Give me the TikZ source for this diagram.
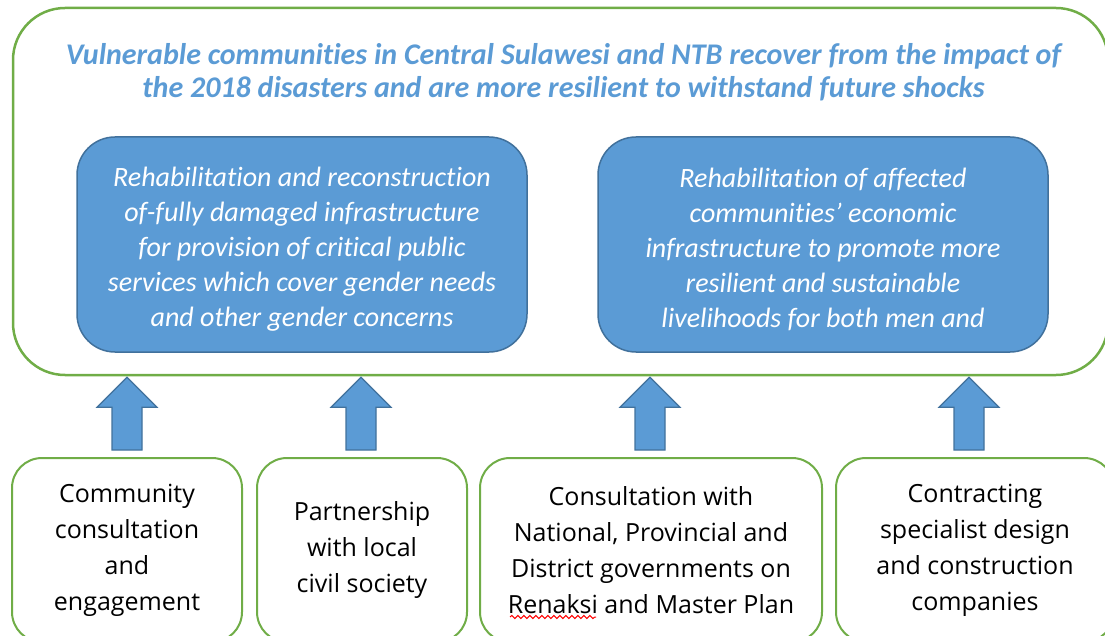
\documentclass[tikz,border=0pt]{standalone}
\usepackage{fontspec}
\setmainfont[Ligatures=NoCommon]{Carlito}
\newfontfamily\boxfont{Open Sans}
\usetikzlibrary{calc,decorations.pathmorphing}

\definecolor{goalgreen}{HTML}{70AD47}
\definecolor{accentblue}{HTML}{5B9BD5}
\definecolor{edgeblue}{HTML}{41719C}

% block arrow rising from an input box to the goal frame
\newcommand{\liftarrow}[2]{%
  \draw[liftshape] let \p1=($(#1.north)+(#2,0)$), \p2=(goal.south) in
    (\x1-15pt,\y1+7pt) -- (\x1-15pt,\y2-31pt) -- (\x1-30pt,\y2-31pt) --
    (\x1,\y2-1pt) -- (\x1+30pt,\y2-31pt) -- (\x1+15pt,\y2-31pt) --
    (\x1+15pt,\y1+7pt) -- cycle;}

\begin{document}
\begin{tikzpicture}[x=1pt,y=-1pt,
  goalbox/.style={draw=goalgreen, line width=2.5pt, rounded corners=52pt,
    minimum width=1095pt, minimum height=367pt, inner sep=0pt},
  aimtext/.style={text=accentblue, align=center, inner sep=0pt,
    font=\bfseries\itshape\fontsize{30}{33}\selectfont},
  outcome/.style={draw=edgeblue, fill=accentblue, line width=1.5pt,
    rounded corners=38pt, minimum width=450pt, minimum height=215pt,
    inner sep=0pt},
  outtext/.style={text=white, align=center, inner sep=0pt,
    font=\itshape\fontsize{28}{35}\selectfont},
  inputbox/.style={draw=goalgreen, line width=2pt, rounded corners=30pt,
    fill=white, minimum height=184pt, align=center, inner sep=0pt,
    font=\boxfont\fontsize{25}{36}\selectfont},
  liftshape/.style={draw=edgeblue, fill=accentblue, line width=1.2pt,
    line join=miter}]

\useasboundingbox (0,0) rectangle (1105,636);
\clip (0,0) rectangle (1105,636);

% goal frame and statement
\node[goalbox] (goal) at (560.5,191.5) {};
\node[aimtext] (aim) at (563.5,72.5)
  {Vulnerable communities in Central Sulawesi and NTB recover from the impact of\\
   the 2018 disasters and are more resilient to withstand future shocks};

% outcomes
\node[outcome] (out1) at (302,244.5) {};
\node[outtext] (out1t) at ($(out1.center)+(0,5)$)
  {Rehabilitation and reconstruction\\of-fully damaged infrastructure\\
   for provision of critical public\\services which cover gender needs\\
   and other gender concerns};
\node[outcome] (out2) at (823,244.5) {};
\node[outtext] (out2t) at ($(out2.center)+(0,5)$)
  {Rehabilitation of affected\\communities’ economic\\
   infrastructure to promote more\\resilient and sustainable\\
   livelihoods for both men and};

% inputs
\node[inputbox, minimum width=230pt] (in1) at (127,550)
  {Community\\consultation\\and\\engagement};
\node[inputbox, minimum width=210pt] (in2) at (362,550)
  {Partnership\\with local\\civil society};
\node[inputbox, minimum width=342pt] (in3) at (651,550)
  {Consultation with\\National, Provincial and\\District governments on\\Renaksi and Master Plan};
\node[inputbox, minimum width=278pt] (in4) at (975,550)
  {Contracting\\specialist design\\and construction\\companies};

% spell-check squiggle under "Renaksi"
\draw[red, line width=1pt, decorate,
  decoration={snake, amplitude=1.6pt, segment length=6pt}] (510,617) -- (596,617);

% arrows from inputs to the goal
\liftarrow{in1}{0pt}
\liftarrow{in2}{-1pt}
\liftarrow{in3}{-1pt}
\liftarrow{in4}{-6pt}

\end{tikzpicture}
\end{document}
